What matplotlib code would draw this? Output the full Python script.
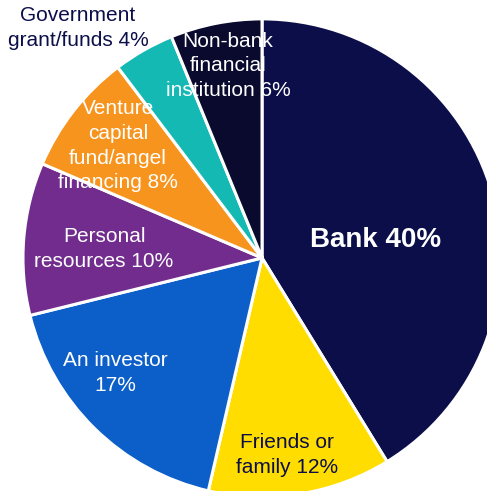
import matplotlib
matplotlib.use("Agg")
import matplotlib.pyplot as plt

plt.rcParams['font.family'] = ['Liberation Sans', 'DejaVu Sans']

# funding sources, listed clockwise from 12 o'clock
sources = ['Bank', 'Friends or\nfamily', 'An investor\n', 'Personal\nresources',
           'Venture\ncapital\nfund/angel\nfinancing', 'Government\ngrant/funds',
           'Non-bank\nfinancial\ninstitution']
shares = [40, 12, 17, 10, 8, 4, 6]
colors = ['#0b0e48', '#ffdd00', '#0c5fc8', '#722c8e', '#f6941e', '#14b9b4', '#090a2e']

# label placement (data units, pie radius = 1) and text colours
label_pos = [(0.473, 0.075), (0.105, -0.824), (-0.615, -0.481), (-0.661, 0.038),
             (-0.603, 0.469), (-0.770, 0.962), (-0.142, 0.803)]
label_colors = ['white', '#0b0e48', 'white', 'white', 'white', '#0b0e48', 'white']


def main():
    fig = plt.figure(figsize=(4.87, 4.91), dpi=100)
    ax = fig.add_axes([0, 0, 1, 1])

    ax.pie(shares, colors=colors, startangle=90, counterclock=False,
           wedgeprops=dict(edgecolor='white', linewidth=2.2))

    for name, val, (x, y), c in zip(sources, shares, label_pos, label_colors):
        if name == 'Bank':
            ax.text(x, y, f'{name} {val}%', color=c, fontsize=20,
                    fontweight='bold', ha='center', va='center')
        else:
            txt = name.rstrip('\n')
            sep = '\n' if name.endswith('\n') else ' '
            ax.text(x, y, f'{txt}{sep}{val}%', color=c, fontsize=15,
                    ha='center', va='center', linespacing=1.38)

    # the pie is cut off on the right and bottom
    ax.set_xlim(-1.096, 0.941)
    ax.set_ylim(-0.975, 1.079)
    ax.set_aspect('equal')
    ax.axis('off')

    fig.savefig('out.png', dpi=100)


if __name__ == "__main__":
    main()
